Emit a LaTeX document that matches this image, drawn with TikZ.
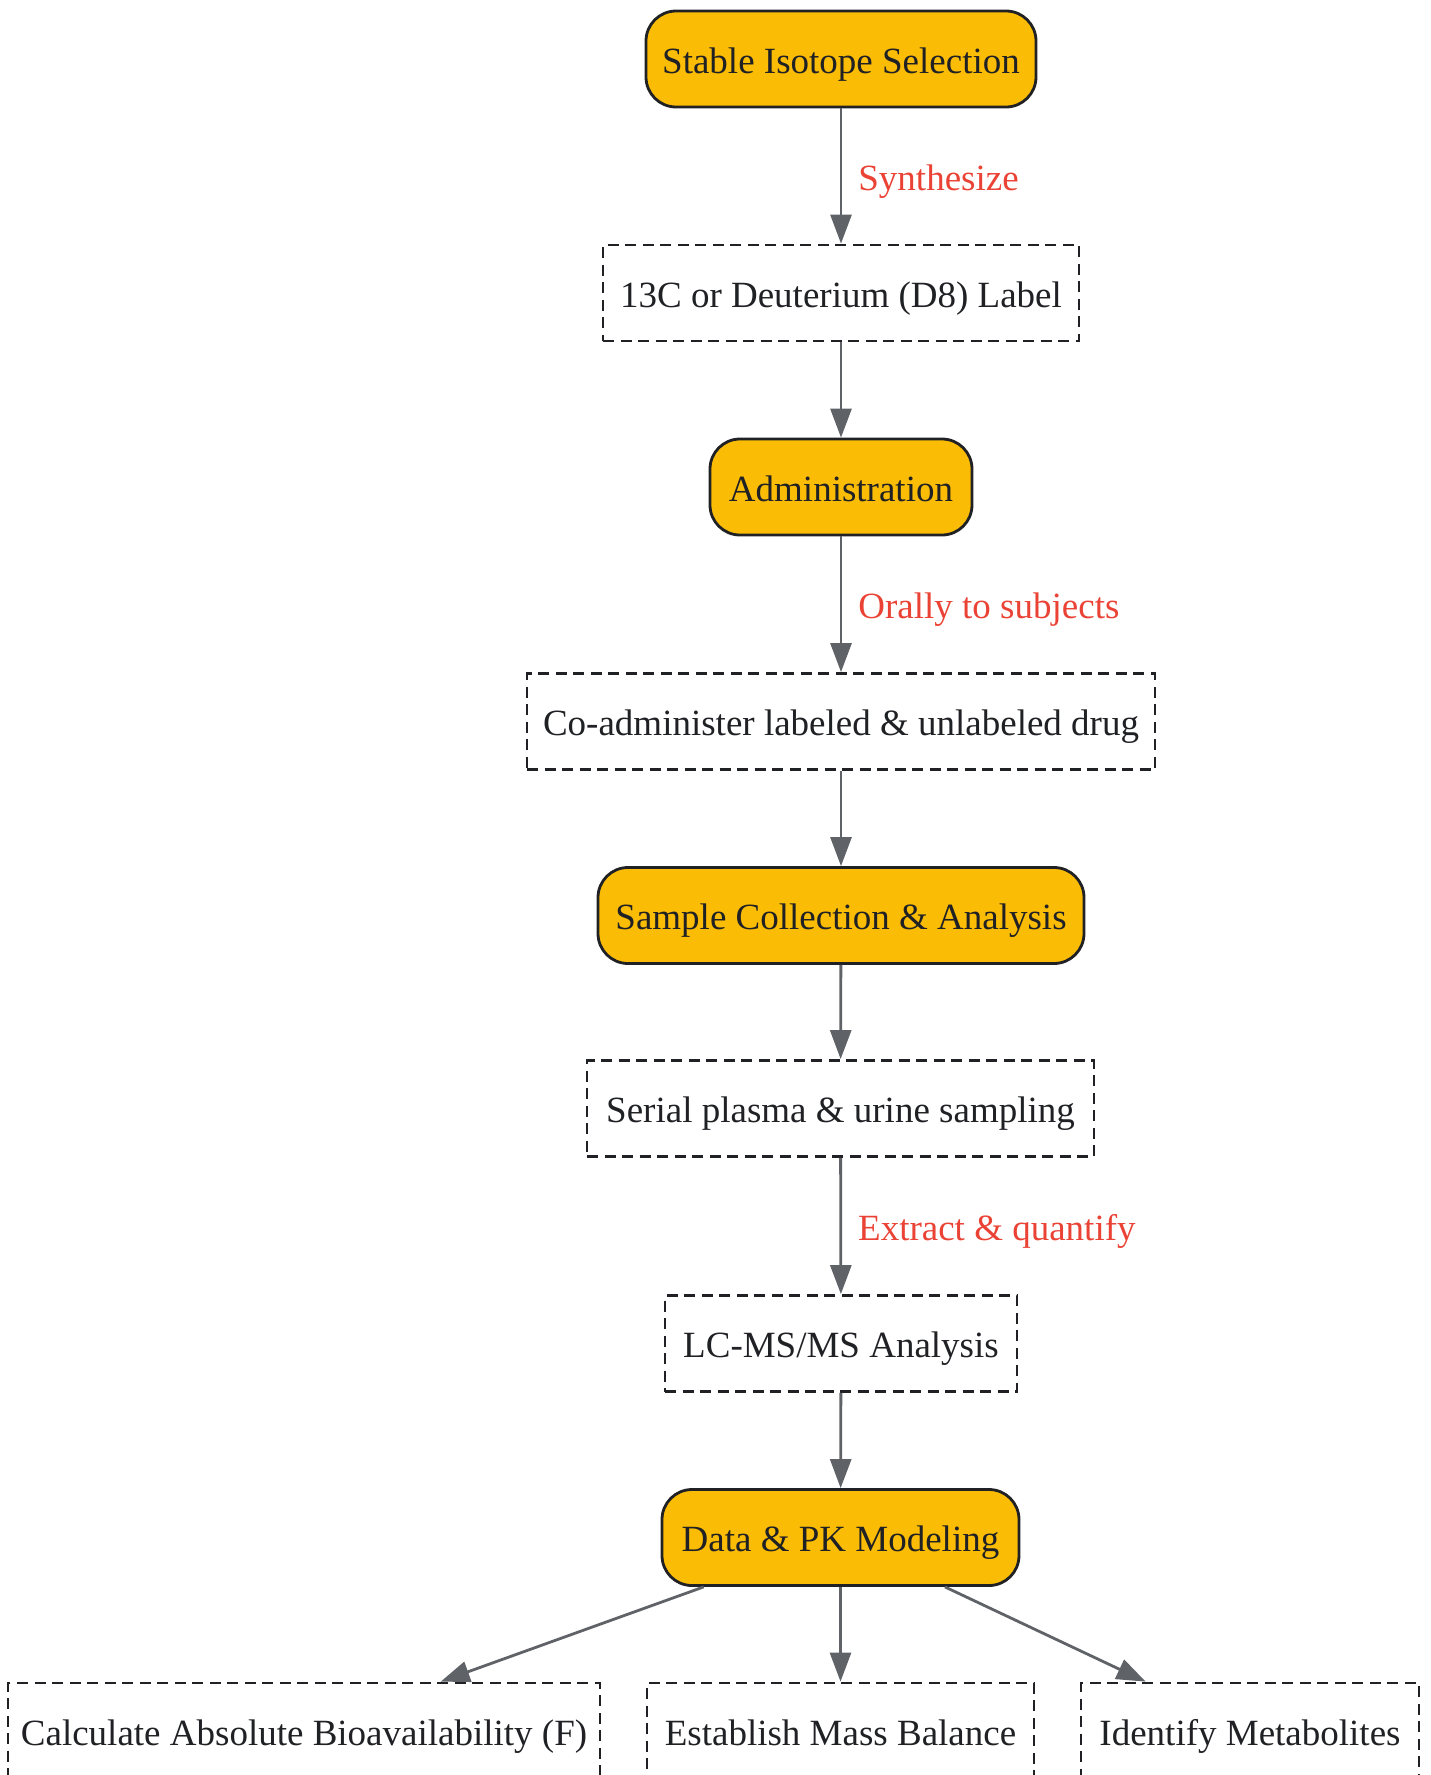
\documentclass[tikz,border=0pt]{standalone}
\usepackage{fontspec}
\setmainfont{Liberation Serif}
\usetikzlibrary{arrows.meta}
\definecolor{gold}{HTML}{FBBC05}
\definecolor{ink}{HTML}{202124}
\definecolor{edgegray}{HTML}{5F6368}
\definecolor{labred}{HTML}{EA4335}
\begin{document}
\begin{tikzpicture}[x=1pt,y=-1pt,
  every node/.style={font=\fontsize{37}{44}\selectfont, text height=30pt, text depth=2pt},
  phase/.style={draw=ink, line width=2.8pt, fill=gold, rounded corners=30pt, minimum height=96pt, text=ink, inner sep=0pt},
  detail/.style={draw=ink, line width=2.8pt, dash pattern=on 11pt off 6.5pt, minimum height=96pt, text=ink, inner sep=0pt},
  flow/.style={draw=edgegray, line width=2.8pt, -{Triangle[length=29pt,width=21pt]}},
  elabel/.style={text=labred, anchor=west, inner sep=0pt, xshift=16pt}
]
\useasboundingbox (0,0) rectangle (1430,1775);
\clip (0,0) rectangle (1430,1775);

\node[phase, minimum width=390pt] (n1) at (841,59) {Stable Isotope Selection};
\node[detail, minimum width=476pt] (n2) at (841,293) {13C or Deuterium (D8) Label};
\node[phase, minimum width=262pt] (n3) at (841,487) {Administration};
\node[detail, minimum width=628pt] (n4) at (841,721.5) {Co-administer labeled \& unlabeled drug};
\node[phase, minimum width=486pt] (n5) at (841,915.5) {Sample Collection \& Analysis};
\node[detail, minimum width=507pt] (n6) at (840.5,1108.5) {Serial plasma \& urine sampling};
\node[detail, minimum width=352pt] (n7) at (841,1343.5) {LC-MS/MS Analysis};
\node[phase, minimum width=357pt] (n8) at (840.5,1537.5) {Data \& PK Modeling};
\node[detail, minimum width=592pt] (b1) at (304,1731) {Calculate Absolute Bioavailability (F)};
\node[detail, minimum width=387pt] (b2) at (840.5,1731) {Establish Mass Balance};
\node[detail, minimum width=338pt] (b3) at (1250,1731) {Identify Metabolites};

\draw[flow] (n1) -- node[elabel] {Synthesize} (n2);
\draw[flow] (n2) -- (n3);
\draw[flow] (n3) -- node[elabel] {Orally to subjects} (n4);
\draw[flow] (n4) -- (n5);
\draw[flow] (n5) -- (n6);
\draw[flow] (n6) -- node[elabel] {Extract \& quantify} (n7);
\draw[flow] (n7) -- (n8);
\draw[flow] (n8) -- (b1);
\draw[flow] (n8) -- (b2);
\draw[flow] (n8) -- (b3);
\end{tikzpicture}
\end{document}
